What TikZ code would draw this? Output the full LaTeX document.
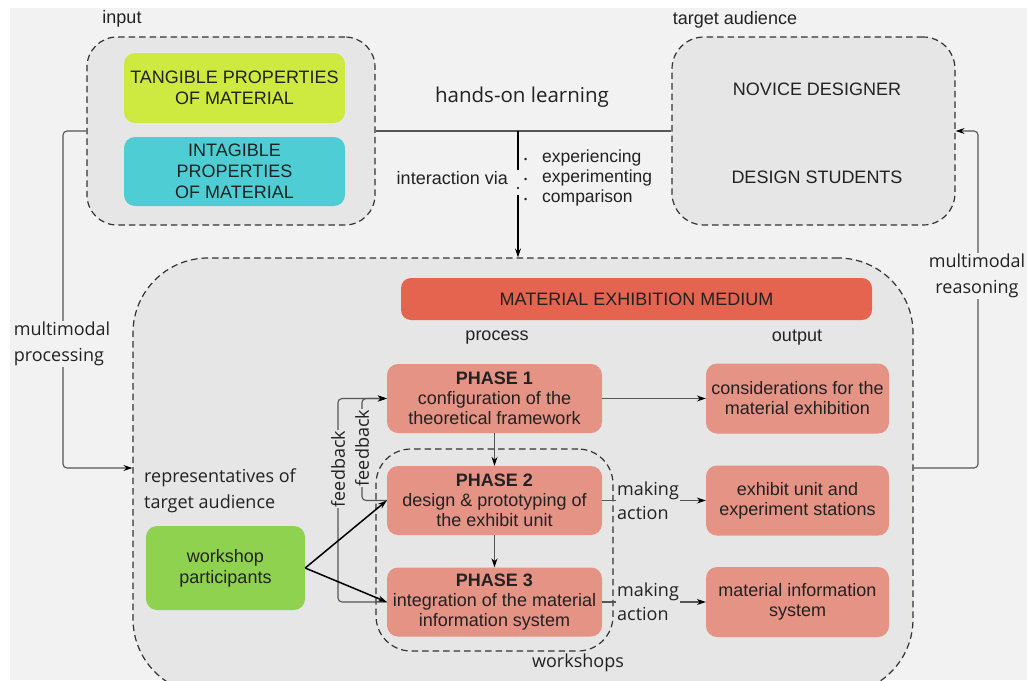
\documentclass[tikz,border=0pt]{standalone}
\usepackage{fontspec}
\setmainfont{Liberation Sans}
\newfontfamily\osans{Open Sans}
\usetikzlibrary{arrows.meta,calc}
\definecolor{bgc}{HTML}{F2F2F2}
\definecolor{grpc}{HTML}{E6E6E6}
\definecolor{tangc}{HTML}{CEE93F}
\definecolor{intc}{HTML}{4FCDD4}
\definecolor{medc}{HTML}{E46450}
\definecolor{phc}{HTML}{E59385}
\definecolor{partc}{HTML}{8FD24F}
\definecolor{txtc}{HTML}{222222}
\definecolor{linec}{HTML}{555555}
\begin{document}
\begin{tikzpicture}[x=1pt,y=-1pt,
 every node/.style={text=txtc},
 grp/.style={draw=black!80, line width=1.2pt, dash pattern=on 6.5pt off 4pt, fill=grpc, inner sep=0pt},
 card/.style={rounded corners=11pt, inner sep=0pt, align=center, font=\fontsize{18}{21}\selectfont},
 phase/.style={card, fill=phc, font=\fontsize{18}{20}\selectfont, minimum width=215pt, minimum height=69pt},
 outbox/.style={card, fill=phc, font=\fontsize{18}{20}\selectfont, minimum width=183pt, minimum height=70pt},
 lbl/.style={font=\osans\fontsize{18}{26}\selectfont, align=left, inner sep=1pt},
 sml/.style={font=\fontsize{18}{20}\selectfont, inner sep=0pt},
 conn/.style={draw=linec, line width=1.1pt, rounded corners=4pt},
 tip/.style={-{Stealth[length=9pt,width=6pt,color=black]}},
]
\useasboundingbox (0,0) rectangle (1027,680);
\clip (0,0) rectangle (1027,680);
\fill[white] (0,0) rectangle (1027,680);
\fill[bgc] (10,8) rectangle (1027,680);

% groups
\node[grp, rounded corners=30pt, minimum width=288pt, minimum height=188pt] (inbox) at (231,131) {};
\node[grp, rounded corners=32pt, minimum width=283pt, minimum height=188pt] (tgt) at (813.5,131) {};
\node[grp, rounded corners=75pt, minimum width=780pt, minimum height=436pt] (main) at (523,476) {};
\node[grp, fill=none, rounded corners=35pt, minimum width=237pt, minimum height=202pt] (ws) at (494.5,550) {};

% headings
\node[sml] (inlbl) at (122,19) {input};
\node[sml] (tgtlbl) at (735,20) {target audience};
\node[lbl, font=\osans\fontsize{20.5}{24}\selectfont] (hands) at (522,97) {hands-on learning};
\node[sml] (proclbl) at (497,338) {process};
\node[sml] (outlbl) at (797,338) {output};
\node[lbl] (wslbl) at (578,663) {workshops};
\node[lbl, anchor=west] (rep) at (143,491) {representatives of\\target audience};

% input cards
\node[card, fill=tangc, minimum width=221pt, minimum height=70pt] (tang) at (234.5,88) {TANGIBLE PROPERTIES\\OF MATERIAL};
\node[card, fill=intc, minimum width=221pt, minimum height=69pt] (intang) at (234.5,171.5) {INTAGIBLE\\PROPERTIES\\OF MATERIAL};

% target audience
\node[card] (novice) at (817,89) {NOVICE DESIGNER};
\node[card] (students) at (817,177) {DESIGN STUDENTS};

% medium
\node[card, fill=medc, rounded corners=10pt, minimum width=471pt, minimum height=42pt] (medium) at (636.5,299) {MATERIAL EXHIBITION MEDIUM};

% phases
\node[phase] (p1) at (494.5,398.5) {\textbf{PHASE 1}\\configuration of the\\theoretical framework};
\node[phase] (p2) at (494.5,500.5) {\textbf{PHASE 2}\\design \& prototyping of\\the exhibit unit};
\node[phase] (p3) at (494.5,602) {\textbf{PHASE 3}\\integration of the material\\information system};

% outputs
\node[outbox] (o1) at (797.5,398.5) {considerations for the\\material exhibition};
\node[outbox] (o2) at (797.5,500.5) {exhibit unit and\\experiment stations};
\node[outbox] (o3) at (797.5,602) {material information\\system};

% participants
\node[card, fill=partc, minimum width=159pt, minimum height=84pt] (part) at (225.5,568) {workshop\\participants};

% hands-on learning line and arrow
\coordinate (hj) at (518,131);
\draw[conn] (inbox.east) -- (tgt.west);
\draw[black, line width=1.3pt] (hj) -- ++(0,39);
\draw[black, line width=1.3pt, tip] ($(hj)+(0,64)$) -- (hj |- main.north);
\fill[black] (518,188) circle (1.1pt);
\node[sml, anchor=east] (via) at (508,178) {interaction via};
\node[sml, font=\fontsize{17.5}{20}\selectfont, anchor=west, align=left] (items) at (524,178) {\makebox[18pt][l]{\fontsize{9}{9}\selectfont•}experiencing\\\makebox[18pt][l]{\fontsize{9}{9}\selectfont•}experimenting\\\makebox[18pt][l]{\fontsize{9}{9}\selectfont•}comparison};

% multimodal processing
\coordinate (lc1) at (63,131);
\coordinate (lc2) at (63,468);
\draw[conn, tip] (inbox.west) -- (lc1) -- (lc2) -- (main.west |- lc2);
\node[lbl, fill=bgc] (mproc) at (62,344) {multimodal\\processing};

% multimodal reasoning
\coordinate (rc1) at (978,468);
\coordinate (rc2) at (978,131);
\draw[conn, tip] (main.east |- rc1) -- (rc1) -- (rc2) -- (tgt.east);
\node[lbl, fill=bgc, align=center] (mreas) at (977,276) {multimodal\\reasoning};

% phase flow
\draw[conn, tip] (p1.east) -- (o1.west);
\draw[conn, tip] (p1.south) -- (p2.north);
\draw[conn, tip] (p2.south) -- (p3.north);
\draw[conn, tip] (p2.east) -- (o2.west);
\draw[conn, tip] (p3.east) -- (o3.west);
\node[lbl, fill=grpc, anchor=west, font=\osans\fontsize{18}{24}\selectfont] (ma1) at (616,500.5) {making\\action};
\node[lbl, fill=grpc, anchor=west, font=\osans\fontsize{18}{24}\selectfont] (ma2) at (616,602) {making\\action};

% feedback loops
\coordinate (fb1) at (338,0);
\coordinate (fb2) at (362,0);
\draw[conn, tip] (p3.west) -- (p3.west -| fb1) -- (p1.west -| fb1) -- (p1.west);
\draw[conn, tip] (p2.west) -- (p2.west -| fb2) -- (p1.west -| fb2) -- (p1.west);
\node[lbl, rotate=90, fill=grpc] (fbl1) at (338,469) {feedback};
\node[lbl, rotate=90, fill=grpc] (fbl2) at (362,448) {feedback};

% participants arrows
\draw[black, line width=1.5pt, tip] (part.east) -- (p2.west);
\draw[black, line width=1.5pt, tip] (part.east) -- (p3.west);
\end{tikzpicture}
\end{document}
